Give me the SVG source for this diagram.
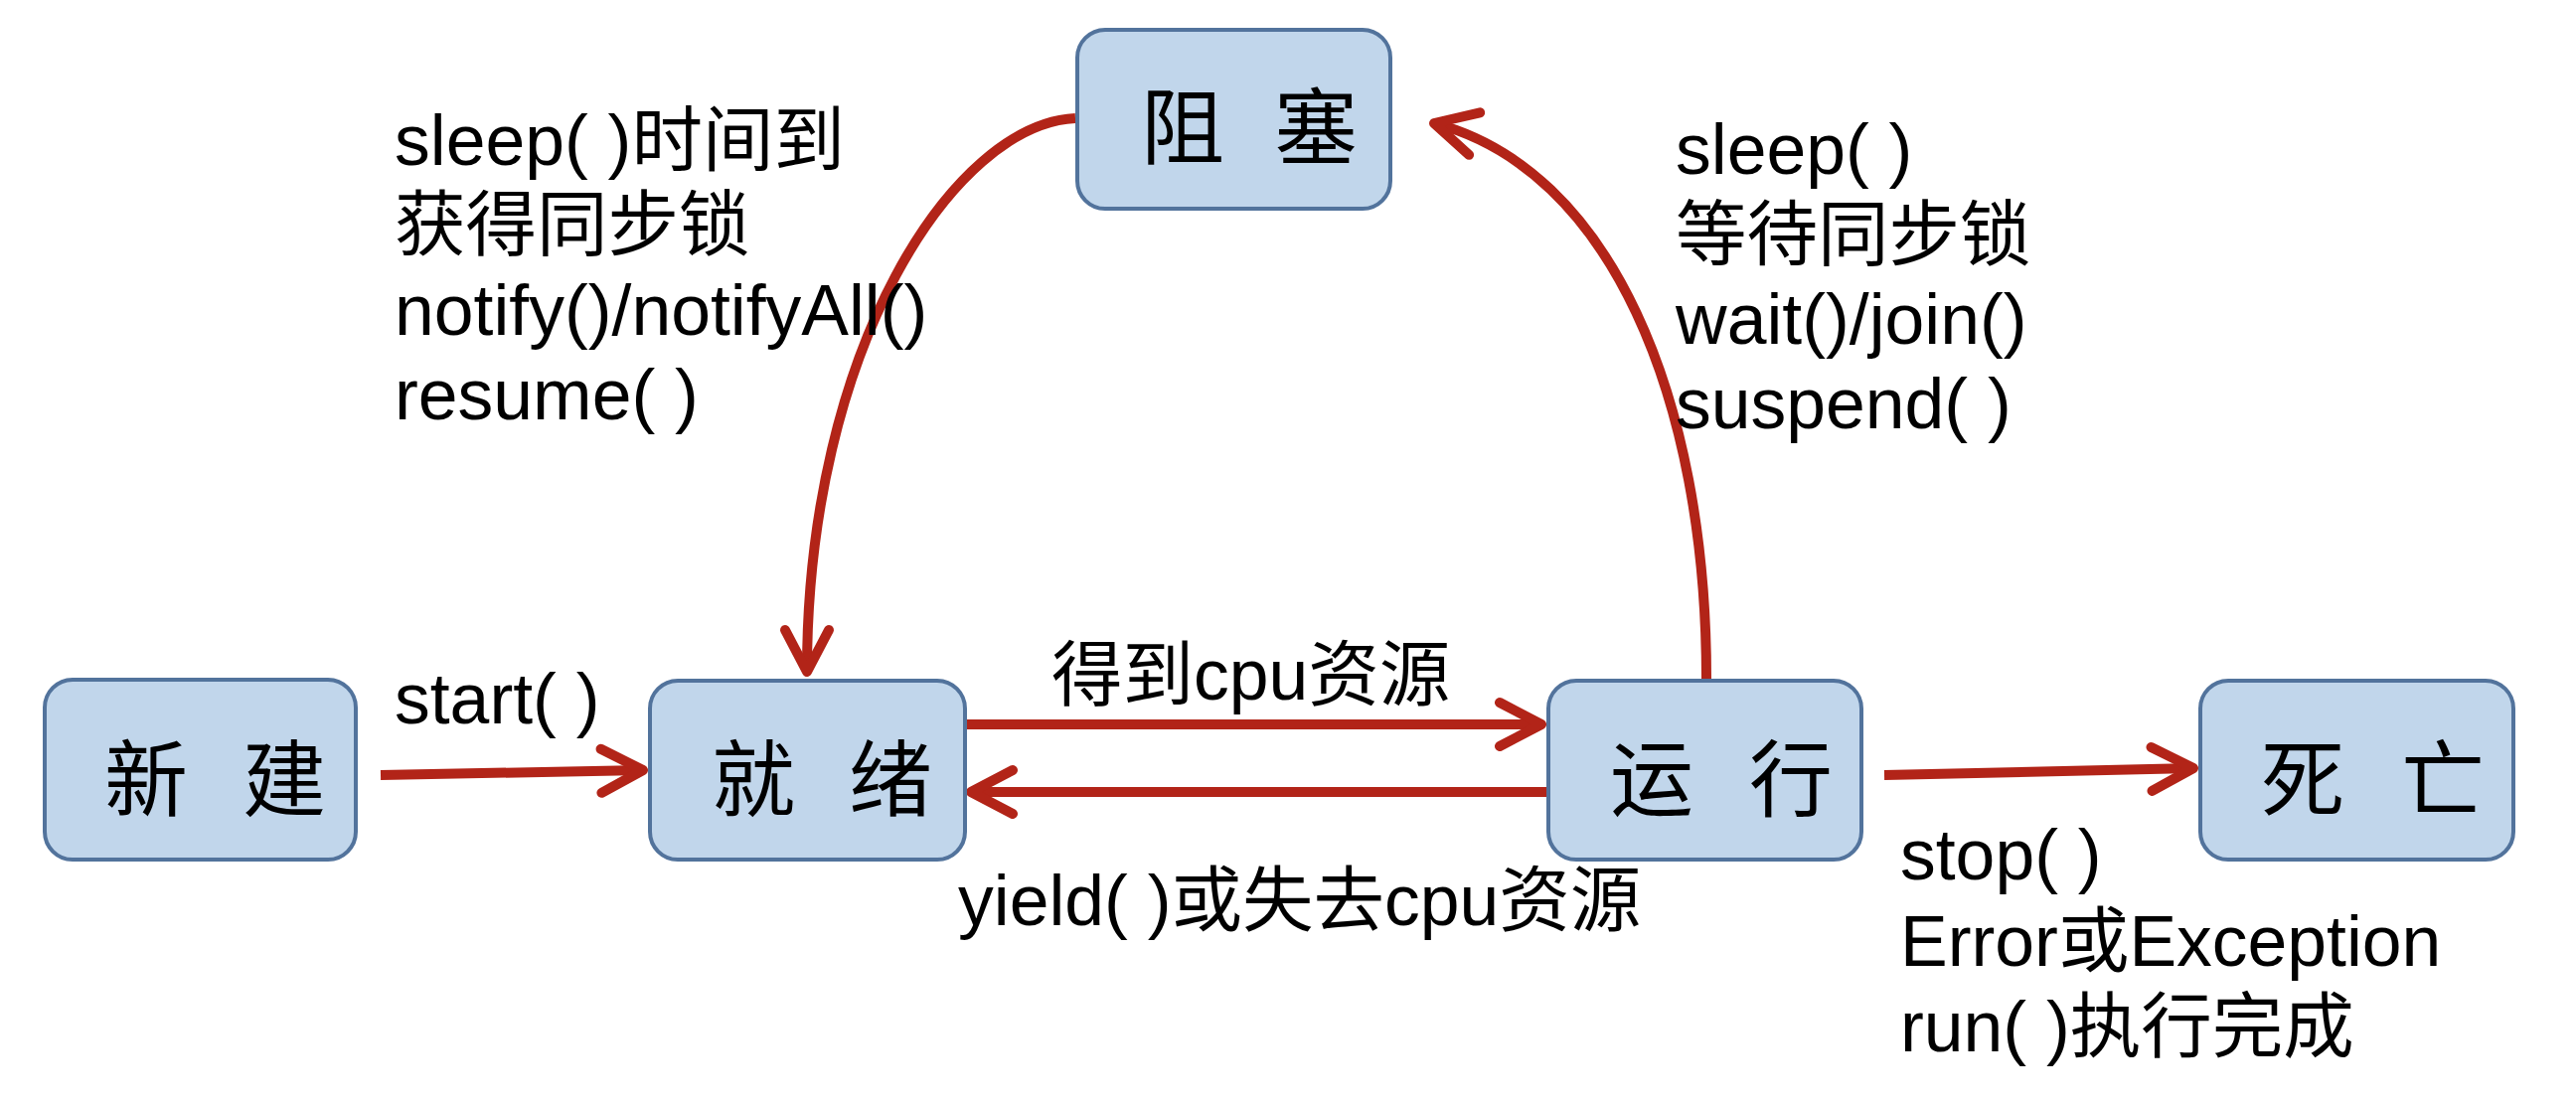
<svg xmlns="http://www.w3.org/2000/svg" width="2592" height="1112" viewBox="0 0 2592 1112">
<style>
.box{fill:#c1d6eb;stroke:#52739c;stroke-width:4}
.nt{font-family:"Noto Sans CJK SC",sans-serif;font-size:84px;fill:#000}
.lb{font-family:"Liberation Sans","Noto Sans CJK SC",sans-serif;font-size:71.5px;fill:#000}
.ln{fill:none;stroke:#b22418;stroke-width:10}
</style>
<defs>
<marker id="ah" markerUnits="userSpaceOnUse" orient="auto" refX="0" refY="0" markerWidth="80" markerHeight="80" viewBox="-60 -40 80 80" overflow="visible">
<path d="M-42,-22 L0,0 L-42,22" fill="none" stroke="#b22418" stroke-width="10" stroke-linecap="round" stroke-linejoin="round"/>
</marker>
</defs>
<rect width="2592" height="1112" fill="#fff"/>
<g id="connectors">
<path class="ln" d="M383,780 L647,775" marker-end="url(#ah)"/>
<path class="ln" d="M969,729 L1551,729" marker-end="url(#ah)"/>
<path class="ln" d="M1556,797 L977,797" marker-end="url(#ah)"/>
<path class="ln" d="M1896,780 L2207,773" marker-end="url(#ah)"/>
<path class="ln" d="M1082,119 C960,125 812,350 812,676" marker-end="url(#ah)"/>
<path class="ln" d="M1717,683 C1717,400 1620,170 1443,124" marker-end="url(#ah)"/>
</g>
<g id="node-zuse">
<rect class="box" x="1084" y="30" width="315" height="180" rx="28"/>
<text class="nt" x="1148" y="159">阻 <tspan x="1282">塞</tspan></text>
</g>
<g id="node-xinjian">
<rect class="box" x="45" y="684" width="313" height="181" rx="28"/>
<text class="nt" x="105" y="815">新 <tspan x="244">建</tspan></text>
</g>
<g id="node-jiuxu">
<rect class="box" x="654" y="685" width="317" height="180" rx="28"/>
<text class="nt" x="716" y="815">就 <tspan x="854">绪</tspan></text>
</g>
<g id="node-yunxing">
<rect class="box" x="1558" y="685" width="315" height="180" rx="28"/>
<text class="nt" x="1620" y="815">运 <tspan x="1760">行</tspan></text>
</g>
<g id="node-siwang">
<rect class="box" x="2214" y="685" width="315" height="180" rx="28"/>
<text class="nt" x="2275" y="815">死 <tspan x="2416">亡</tspan></text>
</g>
<g id="labels">
<text class="lb" x="397" y="728">start( )</text>
<text class="lb" x="1058" y="704">得到cpu资源</text>
<text class="lb" x="964" y="931">yield( )或失去cpu资源</text>
<text class="lb" x="397" y="166">sleep( )时间到</text>
<text class="lb" x="397" y="251">获得同步锁</text>
<text class="lb" x="397" y="337">notify()/notifyAll()</text>
<text class="lb" x="397" y="422">resume( )</text>
<text class="lb" x="1686" y="175">sleep( )</text>
<text class="lb" x="1686" y="261">等待同步锁</text>
<text class="lb" x="1686" y="346">wait()/join()</text>
<text class="lb" x="1686" y="431">suspend( )</text>
<text class="lb" x="1912" y="885">stop( )</text>
<text class="lb" x="1912" y="972">Error或Exception</text>
<text class="lb" x="1912" y="1058">run( )执行完成</text>
</g>
</svg>
